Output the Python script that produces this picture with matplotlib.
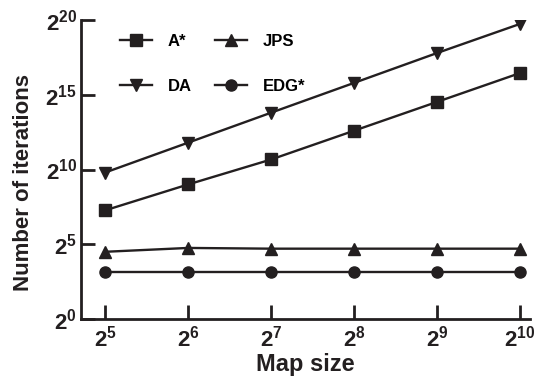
import numpy as np
import matplotlib
matplotlib.use('Agg')
import matplotlib.pyplot as plt
from matplotlib.ticker import FixedLocator, NullLocator, FixedFormatter

plt.rcParams['font.family'] = 'Liberation Sans'
plt.rcParams['font.weight'] = 'bold'
plt.rcParams['mathtext.fontset'] = 'custom'
plt.rcParams['mathtext.rm'] = 'Liberation Sans:bold'
plt.rcParams['mathtext.bf'] = 'Liberation Sans:bold'

# map sizes and iteration counts
map_size = [32, 64, 128, 256, 512, 1024]
astar = [154, 512, 1630, 6200, 23600, 90000]
da = [890, 3560, 14300, 57000, 228000, 880000]
jps = [22.5, 26.9, 26.0, 26.0, 26.0, 26.0]
edg = [8.8, 8.8, 8.8, 8.8, 8.8, 8.8]

xtick_exp = [5, 6, 7, 8, 9, 10]
ytick_exp = [0, 5, 10, 15, 20]

ink = '#231f20'

fig = plt.figure(figsize=(5.37, 3.87), dpi=100)
ax = fig.add_axes([0.151, 0.176, 0.836, 0.772])

ax.plot(map_size, astar, color=ink, lw=1.7, marker='s', ms=8, label='A*')
ax.plot(map_size, da, color=ink, lw=1.7, marker='v', ms=8, label='DA')
ax.plot(map_size, jps, color=ink, lw=1.7, marker='^', ms=8, label='JPS')
ax.plot(map_size, edg, color=ink, lw=1.7, marker='o', ms=8, label='EDG*')

ax.set_xscale('log', base=2)
ax.set_yscale('log', base=2)
ax.set_xlim(2 ** 4.71, 2 ** 10.12)
ax.set_ylim(2 ** 0, 2 ** 20)

ax.xaxis.set_major_locator(FixedLocator([2 ** e for e in xtick_exp]))
ax.xaxis.set_major_formatter(FixedFormatter([r'$\mathbf{2^{%d}}$' % e for e in xtick_exp]))
ax.yaxis.set_major_locator(FixedLocator([2 ** e for e in ytick_exp]))
ax.yaxis.set_major_formatter(FixedFormatter([r'$\mathbf{2^{%d}}$' % e for e in ytick_exp]))
ax.xaxis.set_minor_locator(NullLocator())
ax.yaxis.set_minor_locator(NullLocator())

for s in ['top', 'right']:
    ax.spines[s].set_visible(False)
for s in ['left', 'bottom']:
    ax.spines[s].set_linewidth(2.0)
    ax.spines[s].set_color(ink)

ax.tick_params(direction='in', length=10, width=2.0, colors=ink, labelsize=16)
ax.tick_params(axis='y', pad=3)
ax.tick_params(axis='x', pad=5)

ax.set_xlabel('Map size', fontsize=17, fontweight='bold', color=ink, labelpad=1)
ax.set_ylabel('Number of iterations', fontsize=16, fontweight='bold', color=ink)
ax.yaxis.set_label_coords(-0.104, 0.455)

ax.legend(ncol=2, loc='upper left', bbox_to_anchor=(0.087, 0.955), frameon=False,
          borderaxespad=0, borderpad=0, handlelength=1.9, handletextpad=0.95,
          columnspacing=1.4, labelspacing=1.8, prop={'size': 12, 'weight': 'bold'})

plt.savefig('out.png', dpi=100)
